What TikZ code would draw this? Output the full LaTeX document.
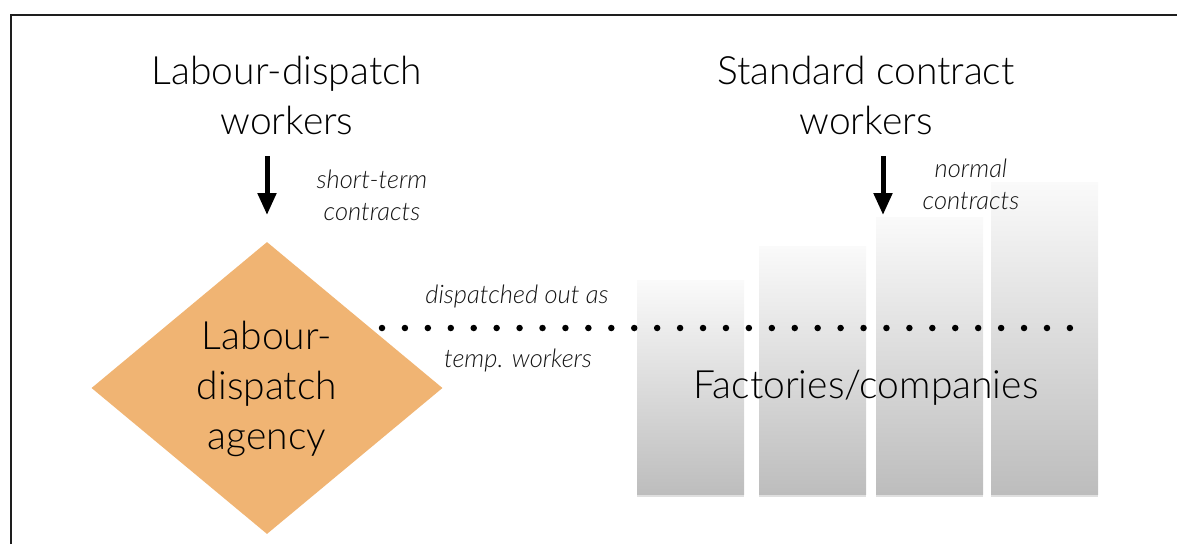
\documentclass[tikz,border=0pt]{standalone}
\usepackage{fontspec}
\setmainfont{Lato Light}[ItalicFont={Lato Light Italic}]
\usetikzlibrary{arrows.meta,shapes.geometric,shadows}
\definecolor{agencyfill}{RGB}{240,180,115}
\definecolor{framecol}{RGB}{30,30,30}
\begin{document}
\begin{tikzpicture}[x=1pt,y=-1pt,
  title/.style={font=\fontsize{39}{50}\selectfont, align=center, inner sep=0pt},
  note/.style={font=\fontsize{25.5}{32}\selectfont\itshape, align=center, inner sep=0pt, text=black!92},
  downarrow/.style={line width=5pt, -{Triangle[width=18pt,length=22pt]}},
  plant/.style={draw=none, top color=gray!4, bottom color=gray!52, inner sep=0pt,
    minimum width=107pt, anchor=south west,
    drop shadow={shadow xshift=0pt, shadow yshift=-2pt, opacity=0.25, fill=gray}},
  dotline/.style={line width=6.5pt, line cap=round, dash pattern=on 0pt off 22.93pt}
  ]
\useasboundingbox (0,0) rectangle (1177,544);

% outer frame (open to the right and bottom)
\draw[line width=2pt, framecol] (11,544) -- (11,15) -- (1177,15);

% worker groups
\node[title] (dispatchworkers) at (287,95) {Labour-dispatch\\workers};
\node[title] (standardworkers) at (866,95) {Standard contract\\workers};

% factories
\node[plant, minimum height=214pt] (f1) at (637,495) {};
\node[plant, minimum height=248pt] (f2) at (759,495) {};
\node[plant, minimum height=277pt] (f3) at (876,495) {};
\node[plant, minimum height=312pt] (f4) at (991,495) {};
\node[title] (factories) at (866,388) {Factories/companies};

% agency
\node[shape=diamond, fill=agencyfill, inner sep=0pt, minimum width=351pt, minimum height=292pt] (agency) at (267,388) {};
\node[title] (agencytext) at (267,389) {Labour-\\dispatch\\agency};

% contracts
\coordinate (a1s) at (267,156);
\coordinate (a1e) at (267,215);
\coordinate (a2s) at (883,156);
\coordinate (a2e) at (883,215);
\draw[downarrow] (a1s) -- (a1e);
\draw[downarrow] (a2s) -- (a2e);
\node[note] (shortterm) at (372,195) {short-term\\contracts};
\node[note] (normal) at (971,184) {normal\\contracts};

% dispatch route
\coordinate (d1) at (382,328);
\coordinate (d2) at (1070.2,328);
\draw[dotline] (d1) -- (d2);
\node[note] (dispout) at (517,296) {dispatched out as};
\node[note] (temp) at (518,360) {temp. workers};
\end{tikzpicture}
\end{document}
